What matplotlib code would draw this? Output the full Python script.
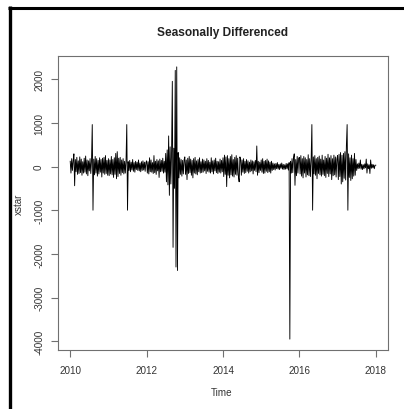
import numpy as np
import matplotlib
matplotlib.use("Agg")
import matplotlib.pyplot as plt
from matplotlib.lines import Line2D

plt.rcParams['font.family'] = ['Liberation Sans', 'DejaVu Sans']

# ---- data: weekly-ish readings of the seasonally differenced series (xstar) ----
years = [2010, 2011, 2012, 2013, 2014, 2015, 2016, 2017]
y2010 = [120, -150, 180, -90, 140, 290, -440, 160, -120, 210, -180, 130, -160, 220, -140, 170,
         -200, 110, -150, 190, -130, 240, -170, 150, -210, 130, -100, 180, -160, 140, 960, -1000,
         170, -190, 230, -150, 180, -220, 140, -170, 200, -130, 160, -240, 190, -150, 210, -180,
         250, -160, 140, -200]
y2011 = [180, -210, 150, -170, 230, -190, 160, -250, 200, -180, 300, -280, 340, -230, 190, -160,
         210, -200, 150, -140, 180, -170, 120, -150, 130, 960, -1000, 110, -90, 140, -120, 100,
         -80, 160, -110, 90, -130, 120, -70, 100, -90, 150, -100, 80, -120, 110, -90, 130, -80,
         100, -110, 90]
y2012 = [130, -150, 110, -170, 200, -120, 150, -130, 90, -160, 250, -140, 120, -180, 160, -100,
         130, -250, 170, -120, 140, -110, 190, -150, 120, -130, 300, -350, 380, -420, 700, -660,
         450, -400, 350, 1950, -1850, 420, -500, 2200, -2300, 2280, -2380, 320, -260, 200, -180,
         160, -220, 140, -170, 150]
y2013 = [220, -180, 150, -300, 190, -160, 230, -140, 170, -200, 140, -260, 180, -150, 210, -170,
         130, -190, 160, -120, 200, -150, 110, -140, 170, -130, 150, -100, 120, -160, 180, -110,
         140, -130, 100, -150, 200, -120, 130, -170, 150, -100, 190, -140, 120, -160, 110, -130,
         170, -150, 140, -120]
y2014 = [200, -230, 260, -180, 220, -460, 250, -200, 180, -260, 230, -190, 270, -220, 160, -240,
         210, -180, 250, -200, 190, -230, -350, 220, 170, -200, 150, -130, 180, -160, 120, -140,
         160, -110, 130, -150, 100, -120, 150, -100, 130, -170, 110, -90, 140, -120, 470, -200,
         120, -140, 100, -90]
y2015 = [150, -130, 180, -160, 120, -150, 140, -110, 170, -140, 130, -120, 100, -150, 120, -90,
         80, -70, 60, -80, 70, -50, 90, -60, 50, -70, 60, -40, 80, -60, 50, -70, 40, -60, 70, -50,
         60, -80, 90, -3950, 120, -150, 180, -140, 200, 290, -430, 160, -210, 230, -150, 190]
y2016 = [210, -170, 250, -220, 180, -260, 230, -150, 200, -240, 160, -190, 270, -210, 180, -230,
         150, 960, -1000, 220, -170, 250, -200, 180, -280, 210, -160, 240, -190, 170, -220, 260,
         -180, 150, -210, 230, -250, 190, -160, 280, -230, 200, -170, 250, -300, 180, -210, 260,
         -190, 220, -240, 170]
y2017 = [250, -300, 280, -230, 320, -400, 260, -350, 300, -270, 340, -310, 480, 960, -1000, 290,
         -250, 200, -320, 260, -280, 180, -220, 300, -200, 160, -90, 60, -50, 80, -40, 150, -60,
         50, -70, 40, -50, 60, -30, 170, -150, 60, -50, 40, -160, 150, -40, 50, -30, 40, -50, 30]
end_time = [2018.0]
end_value = [30]

x_ticks = [2010, 2012, 2014, 2016, 2018]
y_ticks = [-4000, -3000, -2000, -1000, 0, 1000, 2000]

series = [y2010, y2011, y2012, y2013, y2014, y2015, y2016, y2017]
t_parts, v_parts = [], []
for yr, vals in zip(years, series):
    n = len(vals)
    t_parts.append(yr + np.arange(n) / n)
    v_parts.append(np.array(vals, dtype=float))
t = np.concatenate(t_parts + [np.array(end_time)])
v = np.concatenate(v_parts + [np.array(end_value, dtype=float)])

# ---- figure ----
W, H = 404, 410
fig = plt.figure(figsize=(W / 100, H / 100), dpi=100)
fig.patch.set_facecolor('white')
ax = fig.add_axes([58 / W, 1 - 351 / H, 330 / W, 294 / H])

ax.plot(t, v, color='black', lw=0.65)

# R-style 4% axis padding
tr = t.max() - t.min()
vr = v.max() - v.min()
ax.set_xlim(t.min() - 0.04 * tr, t.max() + 0.04 * tr)
ax.set_ylim(v.min() - 0.04 * vr, v.max() + 0.04 * vr)

frame_col = '#707070'
for s in ax.spines.values():
    s.set_color(frame_col)
    s.set_linewidth(0.8)

ax.set_xticks(x_ticks)
ax.set_yticks(y_ticks)
ax.set_xticklabels([str(x) for x in x_ticks])
ax.set_yticklabels([str(y) for y in y_ticks], rotation=90, va='center')
ax.tick_params(axis='both', direction='out', length=5, width=0.8, color=frame_col,
               labelsize=7.1, labelcolor='#333333')
ax.tick_params(axis='x', pad=6)
ax.tick_params(axis='y', pad=5)

fig.text(222 / W, 1 - 33 / H, 'Seasonally Differenced', fontsize=8.6, fontweight='bold',
         color='#222222', ha='center', va='center')
fig.text(222 / W, 1 - 393 / H, 'Time', fontsize=7.1, color='#333333', ha='center', va='center')
fig.text(19 / W, 1 - 204 / H, 'xstar', fontsize=7.1, color='#333333', ha='center', va='center',
         rotation=90)

# screenshot border (top and left black lines)
fig.add_artist(Line2D([8 / W, 1.0], [1 - 8.5 / H, 1 - 8.5 / H], transform=fig.transFigure,
                      color='black', lw=2.2, solid_capstyle='butt'))
fig.add_artist(Line2D([9.5 / W, 9.5 / W], [0.0, 1 - 7 / H], transform=fig.transFigure,
                      color='black', lw=2.4, solid_capstyle='butt'))

fig.savefig('out.png', dpi=100, facecolor='white')
